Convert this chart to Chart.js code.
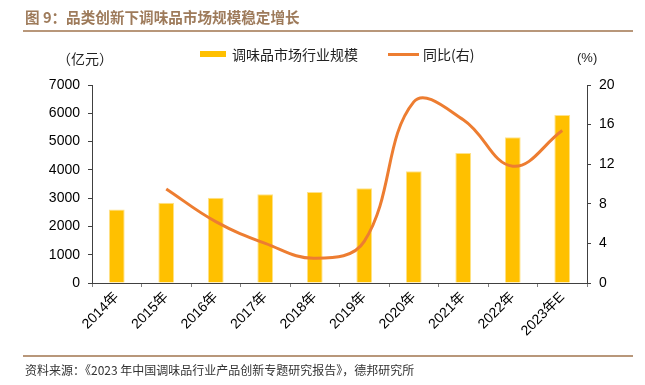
<!DOCTYPE html>
<html>
<head>
<meta charset="utf-8">
<script src="https://cdn.jsdelivr.net/npm/chart.js@4"></script>
<style>
  body { margin: 0; background: #fff; }
  #wrap { position: relative; width: 645px; height: 385px; font-family: "Liberation Sans", "Noto Sans CJK SC", sans-serif; }
  #wrap canvas { position: absolute; left: 0; top: 0; }
  .txt { position: absolute; white-space: nowrap; }
  .cjk { font-family: "Noto Sans CJK SC", sans-serif; }
  .rule { position: absolute; left: 23px; width: 610px; height: 2px; background: #b8977a; }
</style>
</head>
<body>
<div id="wrap">
  <canvas id="chart-market" width="645" height="385"></canvas>
  <div class="txt cjk" style="left:25px; top:6px; font-size:14.6px; font-weight:bold; color:#9e7b5b;">图 9：品类创新下调味品市场规模稳定增长</div>
  <div class="rule" style="top:30px;"></div>
  <div class="txt cjk" style="left:57px; top:48px; font-size:14px; color:#222;">（亿元）</div>
  <div class="txt" style="left:577px; top:50px; font-size:13px; color:#222;">(%)</div>
  <div class="txt" style="left:200px; top:51px; width:26px; height:6px; background:#ffc000;"></div>
  <div class="txt cjk" style="left:232px; top:44px; font-size:14px; color:#222;">调味品市场行业规模</div>
  <div class="txt" style="left:388px; top:53px; width:31px; height:2.5px; background:#ed7d31;"></div>
  <div class="txt cjk" style="left:423px; top:44px; font-size:14px; color:#222;">同比(右)</div>
  <div class="rule" style="top:355px;"></div>
  <div class="txt cjk" style="left:25px; top:361px; font-size:12px; color:#333;">资料来源：《2023 年中国调味品行业产品创新专题研究报告》，德邦研究所</div>
</div>
<script>
// Données
const categories = ['2014年', '2015年', '2016年', '2017年', '2018年', '2019年', '2020年', '2021年', '2022年', '2023年E'];
const marketSize = [2600, 2840, 3010, 3140, 3220, 3350, 3950, 4600, 5150, 5940];
const yoyGrowth = [null, 9.5, 6.2, 4.0, 2.5, 4.2, 18.3, 16.5, 11.8, 15.4];
const leftTicks = [0, 7000, 1000];
const rightTicks = [0, 20, 4];

const axisColor = '#404040';
const tickFont = { family: "'Liberation Sans', 'Noto Sans CJK SC', sans-serif", size: 14 };
const plainNumber = (v) => String(v);

const ctx = document.getElementById('chart-market').getContext('2d');
const marketChart = new Chart(ctx, {
    data: {
        labels: categories,
        datasets: [{
            type: 'line',
            label: '同比(右)',
            data: yoyGrowth,
            yAxisID: 'y1',
            borderColor: '#ed7d31',
            borderWidth: 3,
            pointRadius: 0,
            tension: 0.4,
            order: 0
        }, {
            type: 'bar',
            label: '调味品市场行业规模',
            data: marketSize,
            yAxisID: 'y',
            backgroundColor: '#ffc000',
            borderColor: '#ffe28a',
            borderWidth: 1,
            categoryPercentage: 1,
            barPercentage: 0.32,
            order: 1
        }]
    },
    options: {
        responsive: false,
        animation: false,
        layout: { padding: { top: 85, left: 0, right: 0, bottom: 0 } },
        plugins: { legend: { display: false }, tooltip: { enabled: false } },
        scales: {
            x: {
                grid: { drawOnChartArea: false, drawTicks: true, tickLength: 4, color: '#808080' },
                border: { display: true, color: axisColor, width: 1 },
                ticks: { color: '#000', font: tickFont, maxRotation: 45, minRotation: 45, padding: 2, autoSkip: false },
                afterFit: (s) => { s.height = 102; }
            },
            y: {
                position: 'left',
                min: leftTicks[0], max: leftTicks[1],
                grid: { drawOnChartArea: false, drawTicks: true, tickLength: 4, color: axisColor },
                border: { display: true, color: axisColor, width: 1 },
                ticks: { stepSize: leftTicks[2], color: '#000', font: tickFont, padding: 8, callback: plainNumber },
                afterFit: (s) => { s.width = 92; }
            },
            y1: {
                position: 'right',
                min: rightTicks[0], max: rightTicks[1],
                grid: { drawOnChartArea: false, drawTicks: true, tickLength: 4, color: axisColor },
                border: { display: true, color: axisColor, width: 1 },
                ticks: { stepSize: rightTicks[2], color: '#000', font: tickFont, padding: 8, callback: plainNumber },
                afterFit: (s) => { s.width = 58; }
            }
        }
    }
});
</script>
</body>
</html>
